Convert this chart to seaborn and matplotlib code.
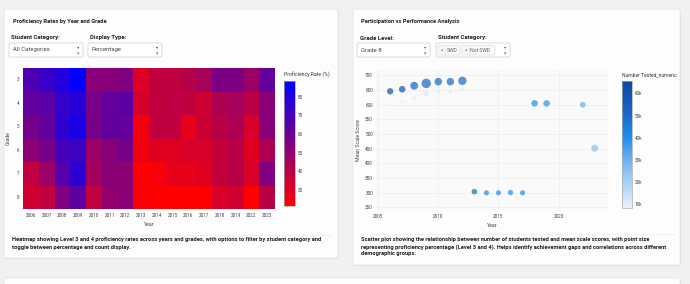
import pandas as pd
import matplotlib
matplotlib.use("Agg")
import matplotlib.pyplot as plt
import seaborn as sns
from matplotlib.colors import LinearSegmentedColormap, Normalize
from matplotlib.patches import FancyBboxPatch
from matplotlib.cm import ScalarMappable

sns.set_theme(style="white")
plt.rcParams['font.family'] = ['Roboto', 'DejaVu Sans']

# ---------------- datos heatmap ----------------
years = ['2006', '2007', '2008', '2009', '2010', '2011', '2012', '2013',
         '2014', '2015', '2016', '2017', '2018', '2019', '2022', '2023']
grades = ['3', '4', '5', '6', '7', '8']
prof_g3 = [68, 74, 80, 88, 53, 53, 55, 31, 38, 38, 41, 45, 56, 56, 48, 62]
prof_g4 = [63, 65, 75, 78, 57, 62, 64, 33, 38, 39, 38, 35, 43, 45, 40, 53]
prof_g5 = [58, 63, 76, 82, 57, 62, 62, 25, 38, 38, 28, 35, 40, 43, 32, 53]
prof_g6 = [52, 57, 70, 72, 48, 53, 57, 26, 30, 30, 32, 32, 37, 40, 30, 43]
prof_g7 = [38, 48, 66, 77, 46, 52, 52, 22, 24, 28, 28, 30, 37, 40, 32, 55]
prof_g8 = [34, 38, 55, 64, 38, 50, 52, 23, 21.5, 21.5, 21.6, 21.5, 32, 34, 22, 40]

# ---------------- datos scatter (Grade 8) ----------------
sc_years = [2006, 2007, 2008, 2009, 2010, 2011, 2012, 2013,
            2014, 2015, 2016, 2017, 2018, 2019, 2022, 2023]
score_not_swd = [646, 653, 665, 673, 679, 679, 682, 304, 300, 300, 301, 300, 605, 605, 600, 452]
score_swd = [600, 612, 623, 639, 644, 645, 652, 266, 267, 265, 263, 262, 585, 585, 577, 429]
tested_not_swd = [62000, 61000, 54000, 53000, 52000, 52000, 51000, 50000,
                  41000, 40000, 40000, 40000, 40000, 39000, 31000, 25000]
tested_swd = [10000, 10200, 10500, 11000, 11000, 11000, 11200, 10500,
              10000, 10000, 10000, 10000, 10500, 10500, 9500, 9000]
pct_not_swd = [47, 49, 58, 70, 56, 56, 62, 42, 38, 38, 39, 38, 48, 48, 42, 52]
pct_swd = [17, 21, 31, 42, 24, 28, 28, 16, 15, 14, 14, 14, 17, 17, 12, 20]

W, H = 690, 284
fig = plt.figure(figsize=(W / 100, H / 100), dpi=100)
fig.patch.set_facecolor('#f1f1f1')

# capa de fondo en coordenadas de pixel
bg = fig.add_axes([0, 0, 1, 1])
bg.set_xlim(0, W)
bg.set_ylim(H, 0)
bg.axis('off')

TXT = '#222222'
GRAY = '#444444'


def card(x0, y0, x1, y1):
    bg.add_patch(FancyBboxPatch((x0 + 0.8, y0 + 1.2), x1 - x0, y1 - y0,
                                boxstyle="round,pad=0,rounding_size=2",
                                fc='#dddddd', ec='none', alpha=0.6))
    bg.add_patch(FancyBboxPatch((x0, y0), x1 - x0, y1 - y0,
                                boxstyle="round,pad=0,rounding_size=2",
                                fc='#fdfdfd', ec='#e3e3e3', lw=0.5))


def dropdown(x0, y0, x1, y1, label=None):
    bg.add_patch(FancyBboxPatch((x0, y0), x1 - x0, y1 - y0,
                                boxstyle="round,pad=0,rounding_size=1.5",
                                fc='white', ec='#cccccc', lw=0.5))
    if label:
        bg.text(x0 + 4, (y0 + y1) / 2, label, fontsize=4.2, color='#444444', va='center')
    bg.text(x1 - 4.5, y0 + 3.8, '▾', fontsize=3.2, color='#555555', va='center', ha='center',
            family=['DejaVu Sans'])
    bg.text(x1 - 4.5, y1 - 3.5, '×', fontsize=3.4, color='#555555', va='center', ha='center')


def chip(x0, x1, y0, y1, label):
    bg.add_patch(FancyBboxPatch((x0, y0), x1 - x0, y1 - y0,
                                boxstyle="round,pad=0,rounding_size=1",
                                fc='#fafafa', ec='#d5d5d5', lw=0.4))
    bg.text(x0 + 2.5, (y0 + y1) / 2, '×', fontsize=3.4, color='#777777', va='center')
    bg.plot([x0 + 6.5, x0 + 6.5], [y0, y1], color='#d5d5d5', lw=0.4)
    bg.text(x0 + 8.5, (y0 + y1) / 2, label, fontsize=3.7, color='#666666', va='center')


# tarjetas
card(4, 9, 338, 258)
card(353, 9, 680, 265)
card(4, 278, 680, 300)

# ---------------- panel izquierdo ----------------
bg.text(13, 21, 'Proficiency Rates by Year and Grade', fontsize=4.15, fontweight='bold',
        color=TXT, va='center')
bg.text(11, 38, 'Student Category:', fontsize=4.3, fontweight='bold', color=TXT, va='center')
bg.text(90, 38, 'Display Type:', fontsize=4.3, fontweight='bold', color=TXT, va='center')
dropdown(9, 43, 83, 57, 'All Categories')
dropdown(88, 43, 162, 57, 'Percentage')

heat = pd.DataFrame([prof_g3, prof_g4, prof_g5, prof_g6, prof_g7, prof_g8],
                    index=grades, columns=years)
rb = LinearSegmentedColormap.from_list('rb', ['#ff0000', '#0000ff'])

ax1 = fig.add_axes([23 / W, 1 - 209 / H, 252 / W, 141 / H])
cax1 = fig.add_axes([284 / W, 1 - 206 / H, 11 / W, 125 / H])
sns.heatmap(heat, ax=ax1, cmap=rb, vmin=21.4, vmax=88.4, cbar_ax=cax1, linewidths=0,
            xticklabels=True, yticklabels=True)
ax1.set_xlabel('Year', fontsize=3.8, color=GRAY, labelpad=3.0)
ax1.set_ylabel('Grade', fontsize=3.8, color=GRAY, labelpad=4.0)
ax1.tick_params(axis='both', length=0, labelsize=3.3, labelcolor=GRAY, pad=2.6)
ax1.tick_params(axis='y', labelrotation=0)
ax1.tick_params(axis='x', labelrotation=0)
cb1 = ax1.collections[0].colorbar
cb1.set_ticks([30, 40, 50, 60, 70, 80])
cb1.outline.set_edgecolor('#aaaaaa')
cb1.outline.set_linewidth(0.5)
cax1.tick_params(length=0, labelsize=3.3, labelcolor=GRAY, pad=2)
bg.text(284, 75, 'Proficiency Rate (%)', fontsize=3.7, color='#333333', va='center')

bg.plot([10, 332], [234.5, 234.5], color='#eeeeee', lw=0.6)
bg.text(12, 240, 'Heatmap showing Level 3 and 4 proficiency rates across years and grades, '
        'with options to filter by student category and', fontsize=4.15, fontweight='bold',
        color=TXT, va='center')
bg.text(12, 247, 'toggle between percentage and count display.', fontsize=4.15,
        fontweight='bold', color=TXT, va='center')

# ---------------- panel derecho ----------------
bg.text(361, 21, 'Participation vs Performance Analysis', fontsize=4.15, fontweight='bold',
        color=TXT, va='center')
bg.text(360, 38, 'Grade Level:', fontsize=4.3, fontweight='bold', color=TXT, va='center')
bg.text(438, 38, 'Student Category:', fontsize=4.3, fontweight='bold', color=TXT, va='center')
dropdown(357, 43, 430, 57, 'Grade 8')
dropdown(436, 43, 510, 57)
chip(438, 460, 45.5, 55, 'SWD')
chip(462, 495, 45.5, 55, 'Not SWD')

df = pd.DataFrame({
    'Year': sc_years + sc_years,
    'Mean Scale Score': score_swd + score_not_swd,
    'Number Tested_numeric': tested_swd + tested_not_swd,
    'Proficiency': pct_swd + pct_not_swd,
    'Category': ['SWD'] * len(sc_years) + ['Not SWD'] * len(sc_years),
})
blues = LinearSegmentedColormap.from_list(
    'bl', [(0, '#e8f2fc'), (0.375, '#6fb2ee'), (0.55, '#1e8ff0'),
           (0.75, '#1868c8'), (1.0, '#0d47a1')])
vmin2, vmax2 = 8500, 65700
size_map = {p: (0.68 * p / 7) ** 2 for p in df['Proficiency'].unique()}

ax2 = fig.add_axes([375.7 / W, 1 - 211 / H, 232.3 / W, 141 / H])
ax2.set_facecolor('#fafafa')
sns.scatterplot(data=df, x='Year', y='Mean Scale Score', hue='Number Tested_numeric',
                size='Proficiency', sizes=size_map, palette=blues,
                hue_norm=(vmin2, vmax2), alpha=0.7, linewidth=0, legend=False, ax=ax2)
ax2.set_xlim(2004.8, 2024.1)
ax2.set_ylim(238, 718.7)
ax2.set_xticks([2005, 2010, 2015, 2020])
ax2.set_yticks(range(250, 701, 50))
ax2.grid(True, color='#eeeeee', lw=0.5)
for s in ax2.spines.values():
    s.set_visible(False)
ax2.tick_params(axis='both', length=0, labelsize=3.3, labelcolor=GRAY, pad=2)
ax2.set_xlabel('Year', fontsize=3.8, color=GRAY, labelpad=3.0)
ax2.set_ylabel('Mean Scale Score', fontsize=3.8, color=GRAY, labelpad=3.0)

cax2 = fig.add_axes([622 / W, 1 - 207.7 / H, 10 / W, 127 / H])
cb2 = fig.colorbar(ScalarMappable(norm=Normalize(vmin2, vmax2), cmap=blues), cax=cax2)
cb2.set_ticks([10000, 20000, 30000, 40000, 50000, 60000])
cb2.set_ticklabels(['10k', '20k', '30k', '40k', '50k', '60k'])
cb2.outline.set_edgecolor('#aaaaaa')
cb2.outline.set_linewidth(0.5)
cax2.tick_params(length=0, labelsize=3.3, labelcolor=GRAY, pad=2)
bg.text(622, 75, 'Number Tested_numeric', fontsize=3.6, color='#333333', va='center')

bg.plot([358, 675], [233.5, 233.5], color='#eeeeee', lw=0.6)
caption2 = ['Scatter plot showing the relationship between number of students tested and '
            'mean scale scores, with point size',
            'representing proficiency percentage (Level 3 and 4). Helps identify achievement '
            'gaps and correlations across different',
            'demographic groups.']
for i, line in enumerate(caption2):
    bg.text(361, 240 + 7 * i, line, fontsize=4.15, fontweight='bold', color=TXT, va='center')

fig.savefig('out.png', dpi=100, facecolor=fig.get_facecolor())
